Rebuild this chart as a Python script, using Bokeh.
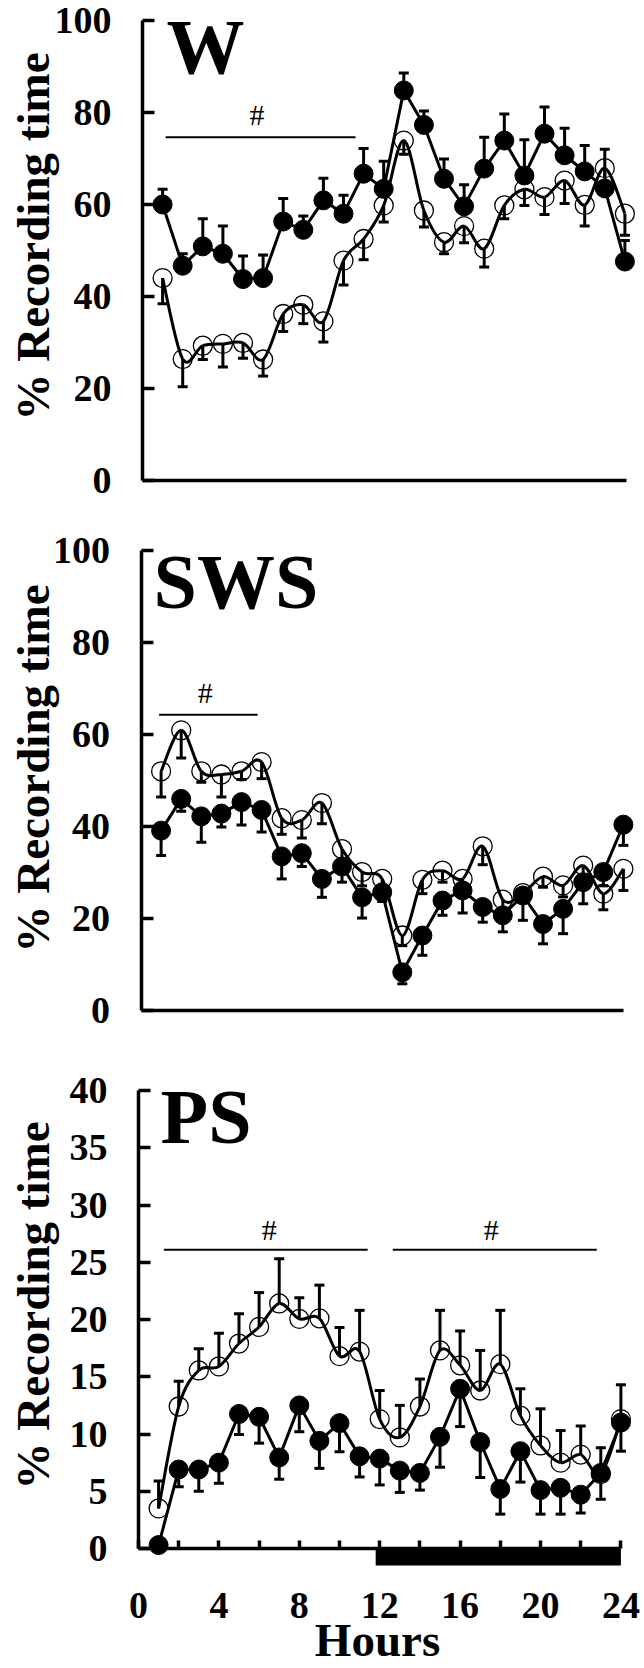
import math
from bokeh.plotting import figure
from bokeh.models import Range1d, FixedTicker, Label
from bokeh.layouts import column
from bokeh.embed import file_html
from bokeh.resources import INLINE

# ---------------- data ----------------
hours = list(range(1, 25))

# W (wakefulness)
w_filled = [60.0, 46.7, 50.9, 49.3, 43.8, 44.0, 56.3, 54.5, 60.9, 58.0, 66.7, 63.4,
            84.8, 77.3, 65.6, 59.6, 67.8, 73.9, 66.3, 75.4, 70.7, 67.2, 63.5, 47.6]
w_filled_err = [3.3, 2.6, 6.0, 6.0, 5.0, 5.0, 5.0, 3.0, 4.8, 4.0, 5.5, 6.0,
                3.8, 3.0, 4.3, 4.7, 6.8, 5.8, 7.8, 5.8, 5.9, 5.6, 8.5, 4.6]
w_open = [44.0, 26.4, 29.3, 29.7, 29.9, 26.3, 36.2, 38.2, 34.6, 47.8, 52.5, 59.8,
          73.9, 58.7, 51.8, 55.3, 50.4, 59.8, 63.3, 61.6, 65.2, 59.9, 67.9, 58.0]
w_open_err = [5.6, 6.0, 3.0, 5.0, 3.3, 3.6, 3.8, 4.1, 4.5, 5.3, 4.5, 3.6,
              3.0, 3.6, 2.5, 3.6, 4.0, 2.9, 3.5, 3.8, 5.0, 4.6, 3.0, 4.7]

# SWS (slow wave sleep)
sws_filled = [39.1, 46.0, 42.2, 42.8, 45.3, 43.6, 33.5, 34.2, 28.6, 31.3, 24.6, 25.7,
              8.3, 16.3, 23.9, 26.1, 22.5, 20.7, 25.0, 18.8, 22.1, 27.9, 30.1, 40.4]
sws_filled_err = [5.4, 2.7, 5.6, 2.9, 5.0, 4.8, 4.9, 2.9, 4.0, 3.4, 4.5, 2.0,
                  2.5, 4.3, 3.2, 4.9, 3.3, 3.6, 5.4, 4.3, 5.4, 4.7, 3.0, 4.5]
sws_open = [52.0, 60.9, 52.0, 51.3, 52.0, 54.0, 41.8, 41.4, 45.1, 35.1, 30.1, 28.6,
            16.3, 28.4, 30.4, 28.6, 35.7, 24.1, 25.5, 29.1, 27.2, 31.5, 25.4, 30.8]
sws_open_err = [5.6, 6.0, 2.4, 4.9, 1.8, 3.6, 3.5, 3.9, 4.5, 3.0, 3.0, 2.0,
                2.2, 3.0, 2.5, 2.0, 4.0, 2.0, 2.0, 2.3, 2.5, 3.0, 3.5, 4.7]

# PS (paradoxical sleep)
ps_filled = [0.3, 6.9, 6.9, 7.5, 11.75, 11.5, 7.95, 12.5, 9.4, 10.95, 8.05, 7.85,
             6.8, 6.6, 9.75, 13.95, 9.3, 5.2, 8.5, 5.1, 5.3, 4.7, 6.6, 11.0]
ps_filled_err = [0.0, 1.5, 1.9, 1.8, 1.8, 2.3, 1.9, 2.3, 2.4, 2.5, 1.8, 2.3,
                 1.9, 1.5, 2.65, 3.3, 3.1, 2.2, 2.7, 2.1, 2.3, 1.6, 2.3, 2.5]
ps_open = [3.5, 12.4, 15.55, 15.9, 17.9, 19.35, 21.4, 20.05, 20.1, 16.8, 17.2, 11.3,
           9.7, 12.4, 17.3, 16.0, 13.8, 16.1, 11.6, 9.0, 7.5, 8.2, 6.5, 11.3]
ps_open_err = [2.4, 2.2, 1.9, 2.9, 2.6, 3.0, 3.9, 1.85, 2.9, 2.5, 3.6, 2.5,
               2.8, 2.4, 3.5, 3.0, 3.5, 4.7, 2.35, 3.2, 2.8, 2.5, 2.3, 3.0]

# significance bars: (start hour, end hour, level) and '#' marks (hour, baseline level)
w_sig = [(1.15, 10.6, 74.6)]
w_hash = [(5.7, 77.3)]
sws_sig = [(0.9, 5.8, 64.3)]
sws_hash = [(3.2, 67.0)]
ps_sig = [(1.26, 11.4, 26.1), (12.65, 22.8, 26.1)]
ps_hash = [(6.5, 27.0), (17.55, 27.0)]

dark_period = (11.8, 24.0)

y_ticks_100 = [0, 20, 40, 60, 80, 100]
y_ticks_40 = [0, 5, 10, 15, 20, 25, 30, 35, 40]
x_ticks = [0, 4, 8, 12, 16, 20, 24]
x_minor = [2, 6, 10, 14, 18, 22]

y_title = "% Recording time"
x_title = "Hours"

SERIF = "Liberation Serif"
FIG_W = 644
PX_PER_HOUR = 20.1
MID = 0.3375  # em-box centre above the baseline (Liberation Serif)


def make_fig(height, top_page, hour0_page, y0_page, px_per_unit):
    xs = -hour0_page / PX_PER_HOUR
    xe = xs + FIG_W / PX_PER_HOUR
    ye = (y0_page - top_page) / px_per_unit
    ys = ye - height / px_per_unit
    p = figure(width=FIG_W, height=height, x_range=Range1d(xs, xe),
               y_range=Range1d(ys, ye), output_backend="svg",
               toolbar_location=None, min_border=0)
    p.outline_line_color = None
    p.grid.visible = False
    p.background_fill_color = "white"
    p.border_fill_color = "white"
    p.xaxis.fixed_location = 0
    p.yaxis.fixed_location = 0

    def px2x(px):
        return xs + px / PX_PER_HOUR

    def py2y(py):
        return ye - (py - top_page) / px_per_unit

    return p, px2x, py2y


def style_yaxis(p, ticks):
    ax = p.yaxis[0]
    ax.bounds = (ticks[0], ticks[-1])
    ax.ticker = FixedTicker(ticks=ticks)
    ax.axis_line_width = 3.5
    ax.axis_line_color = "black"
    ax.major_tick_line_width = 3.5
    ax.major_tick_line_color = "black"
    ax.major_tick_in = 12
    ax.major_tick_out = 0
    ax.minor_tick_line_color = None
    ax.major_label_text_font = SERIF
    ax.major_label_text_font_style = "bold"
    ax.major_label_text_font_size = "38px"
    ax.major_label_text_color = "black"
    ax.major_label_standoff = 31


def style_xaxis(p, end, labelled):
    ax = p.xaxis[0]
    ax.bounds = (0, end)
    ax.axis_line_width = 3.5
    ax.axis_line_color = "black"
    if labelled:
        ax.ticker = FixedTicker(ticks=x_ticks, minor_ticks=x_minor)
        ax.major_tick_line_width = 3.5
        ax.major_tick_in = 8
        ax.major_tick_out = 0
        ax.minor_tick_line_width = 3.5
        ax.minor_tick_line_color = "black"
        ax.minor_tick_in = 8
        ax.minor_tick_out = 0
        ax.major_label_text_font = SERIF
        ax.major_label_text_font_style = "bold"
        ax.major_label_text_font_size = "38px"
        ax.major_label_text_color = "black"
        ax.major_label_standoff = 44
    else:
        ax.ticker = FixedTicker(ticks=[])
        ax.major_tick_line_color = None
        ax.minor_tick_line_color = None
        ax.major_label_text_color = None


def bezier_from(xs, ys):
    n = len(xs)
    out = dict(x0=[], y0=[], x1=[], y1=[], cx0=[], cy0=[], cx1=[], cy1=[])
    for i in range(n - 1):
        a = max(i - 1, 0)
        d = min(i + 2, n - 1)
        out["x0"].append(xs[i]); out["y0"].append(ys[i])
        out["x1"].append(xs[i + 1]); out["y1"].append(ys[i + 1])
        out["cx0"].append(xs[i] + (xs[i + 1] - xs[a]) / 6.0)
        out["cy0"].append(ys[i] + (ys[i + 1] - ys[a]) / 6.0)
        out["cx1"].append(xs[i + 1] - (xs[d] - xs[i]) / 6.0)
        out["cy1"].append(ys[i + 1] - (ys[d] - ys[i]) / 6.0)
    return out


def draw_series(p, vals, errs, direction, filled):
    if filled:
        p.line(hours, vals, line_width=3, line_color="black")
    else:
        b = bezier_from(hours, vals)
        p.bezier(x0=b["x0"], y0=b["y0"], x1=b["x1"], y1=b["y1"],
                 cx0=b["cx0"], cy0=b["cy0"], cx1=b["cx1"], cy1=b["cy1"],
                 line_width=3, line_color="black")
    tips = [v + direction * e for v, e in zip(vals, errs)]
    p.segment(hours, vals, hours, tips, line_width=3, line_color="black")
    p.scatter(hours, tips, marker="dash", size=10, line_width=3, line_color="black")
    if filled:
        p.scatter(hours, vals, marker="circle", size=19, fill_color="black",
                  line_color="black", line_width=1)
    else:
        p.scatter(hours, vals, marker="circle", size=19, fill_color=None,
                  line_color="black", line_width=1.3)


def add_sig(p, sig, hashes, ppu):
    for (a, b, lvl) in sig:
        p.line([a, b], [lvl, lvl], line_width=2, line_color="black")
    for (h, lvl) in hashes:
        p.add_layout(Label(x=h, y=lvl + MID * 30 / ppu, text="#", text_font=SERIF,
                           text_font_size="30px", text_align="center",
                           text_baseline="middle", text_color="black"))


def add_titles(p, px2x, py2y, name, name_left, name_base, ycenter):
    p.add_layout(Label(x=px2x(name_left), y=py2y(name_base - MID * 78), text=name,
                       text_font=SERIF, text_font_style="bold",
                       text_font_size="78px", text_align="left",
                       text_baseline="middle", text_color="black"))
    p.add_layout(Label(x=px2x(48 - MID * 47), y=py2y(ycenter), text=y_title,
                       angle=math.pi / 2, text_font=SERIF, text_font_style="bold",
                       text_font_size="47px", text_align="center",
                       text_baseline="middle", text_color="black"))


# ---------------- W ----------------
W_PPU = 4.6
p1, x1f, y1f = make_fig(528, 0, 142, 480, W_PPU)
style_yaxis(p1, y_ticks_100)
style_xaxis(p1, 24.1, False)
draw_series(p1, w_open, w_open_err, -1, False)
draw_series(p1, w_filled, w_filled_err, +1, True)
add_sig(p1, w_sig, w_hash, W_PPU)
add_titles(p1, x1f, y1f, "W", 166, 72, 236)

# ---------------- SWS ----------------
p2, x2f, y2f = make_fig(520, 528, 140.5, 1010, W_PPU)
style_yaxis(p2, y_ticks_100)
style_xaxis(p2, 24.0, False)
draw_series(p2, sws_open, sws_open_err, -1, False)
draw_series(p2, sws_filled, sws_filled_err, -1, True)
add_sig(p2, sws_sig, sws_hash, W_PPU)
add_titles(p2, x2f, y2f, "SWS", 153, 607, 768)

# ---------------- PS ----------------
PS_PPU = 11.45
p3, x3f, y3f = make_fig(620, 1048, 138, 1548, PS_PPU)
style_yaxis(p3, y_ticks_40)
style_xaxis(p3, 24.0, True)
p3.quad(left=[dark_period[0]], right=[dark_period[1]], top=[0],
        bottom=[-17 / PS_PPU], fill_color="black", line_color=None)
draw_series(p3, ps_open, ps_open_err, +1, False)
draw_series(p3, ps_filled, ps_filled_err, -1, True)
add_sig(p3, ps_sig, ps_hash, PS_PPU)
add_titles(p3, x3f, y3f, "PS", 160, 1142, 1305)
p3.add_layout(Label(x=x3f(377), y=y3f(1655 - MID * 47), text=x_title, text_font=SERIF,
                    text_font_style="bold", text_font_size="47px",
                    text_align="center", text_baseline="middle",
                    text_color="black"))

layout = column(p1, p2, p3, spacing=0)
open("out.html", "w").write(file_html(layout, INLINE))
